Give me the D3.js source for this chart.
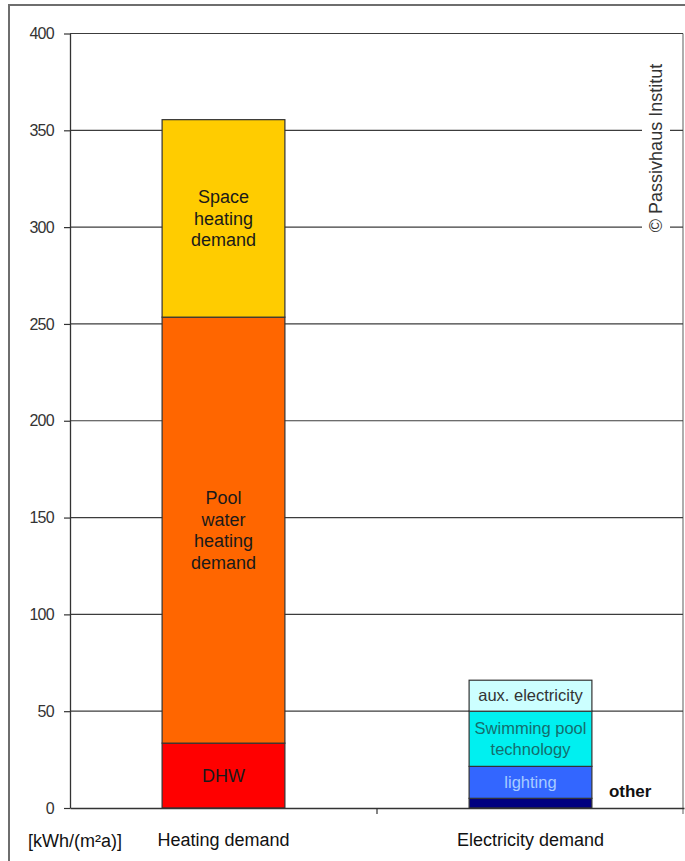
<!DOCTYPE html>
<html>
<head>
<meta charset="utf-8">
<script src="https://cdn.jsdelivr.net/npm/d3@7"></script>
<style>
  html, body { margin: 0; padding: 0; background: #fff; }
  svg { display: block; font-family: "Liberation Sans", Arial, sans-serif; }
</style>
</head>
<body>
<svg id="chart" width="685" height="861"></svg>
<script>
// Annual demand of an indoor swimming pool, kWh/(m²a)
const categories = ["Heating demand", "Electricity demand"];

// Heating demand, stacked bottom to top
const heatingParts  = ["DHW", "Pool water heating demand", "Space heating demand"];
const heatingValues = [33.5, 220, 102];
const heatingLabels = [["DHW"], ["Pool", "water", "heating", "demand"], ["Space", "heating", "demand"]];

// Electricity demand, stacked bottom to top
const electricityParts  = ["other", "lighting", "Swimming pool technology", "aux. electricity"];
const electricityValues = [5, 16.5, 28.5, 16];
const electricityLabels = [[], ["lighting"], ["Swimming pool", "technology"], ["aux. electricity"]];

const yTicks = [0, 50, 100, 150, 200, 250, 300, 350, 400];
const unitLabel = "[kWh/(m²a)]";
const creditText = "© Passivhaus Institut";

// Styling per segment
const segmentFill = {
  "DHW": "#ff0000",
  "Pool water heating demand": "#ff6600",
  "Space heating demand": "#ffcc00",
  "other": "#000080",
  "lighting": "#3366ff",
  "Swimming pool technology": "#00f0f0",
  "aux. electricity": "#ccffff"
};
const segmentText = {
  "DHW": "#1a1a1a",
  "Pool water heating demand": "#1a1a1a",
  "Space heating demand": "#1a1a1a",
  "lighting": "#a8ccff",
  "Swimming pool technology": "#146e6e",
  "aux. electricity": "#333"
};

const svg = d3.select("#chart");
const plot = { left: 70, right: 684, top: 33.5, bottom: 808 };

const x = d3.scaleBand().domain(categories).range([plot.left, plot.right]);
const y = d3.scaleLinear().domain([0, 400]).range([plot.bottom, plot.top]);
const barW = x.bandwidth() * 0.4;

// Outer frame
svg.append("path")
  .attr("d", "M9,868 L9,5 L690,5")
  .attr("fill", "none").attr("stroke", "#6e6e6e").attr("stroke-width", 2);

// Right edge of the plot area
svg.append("line")
  .attr("x1", 683).attr("x2", 683).attr("y1", plot.top).attr("y2", plot.bottom + 6)
  .attr("stroke", "#777").attr("stroke-width", 1.2);

// Horizontal gridlines
svg.append("g").selectAll("line").data(yTicks.filter(d => d > 0)).join("line")
  .attr("x1", plot.left).attr("x2", 683)
  .attr("y1", d => y(d)).attr("y2", d => y(d))
  .attr("stroke", "#3c3c3c").attr("stroke-width", 1.2);

// Credit text, rotated, on a white patch over the gridlines
const credit = svg.append("g").attr("transform", "translate(656,148) rotate(-90)");
credit.append("rect").attr("x", -93).attr("y", -14).attr("width", 186).attr("height", 28).attr("fill", "#fff");
credit.append("text").attr("text-anchor", "middle").attr("dy", "0.35em")
  .attr("font-size", 18).attr("fill", "#333").text(creditText);

// Y axis
const yAxis = svg.append("g").attr("transform", `translate(${plot.left},0)`)
  .call(d3.axisLeft(y).tickValues(yTicks).tickSize(6).tickSizeOuter(0).tickPadding(10));
yAxis.select(".domain").attr("stroke", "#333").attr("stroke-width", 1.3);
yAxis.selectAll(".tick line").attr("stroke", "#333").attr("stroke-width", 1.2);
yAxis.selectAll(".tick text").attr("font-size", 16).attr("fill", "#333")
  .attr("font-family", "'Liberation Sans', Arial, sans-serif").attr("letter-spacing", -0.7);

// Stacked bars
function drawStack(category, parts, values, labels, fontSize, lh) {
  const cx = x(category) + x.bandwidth() / 2;
  let base = 0;
  const g = svg.append("g");
  parts.forEach((p, i) => {
    const y0 = base, y1 = base + values[i];
    base = y1;
    g.append("rect")
      .attr("x", cx - barW / 2).attr("width", barW)
      .attr("y", y(y1)).attr("height", y(y0) - y(y1))
      .attr("fill", segmentFill[p]).attr("stroke", "#333").attr("stroke-width", 1.2);
    const lines = labels[i];
    if (!lines.length) return;
    const mid = (y(y0) + y(y1)) / 2;
    const t = g.append("text").attr("text-anchor", "middle")
      .attr("font-size", fontSize).attr("fill", segmentText[p]);
    lines.forEach((ln, k) => {
      t.append("tspan").attr("x", cx)
        .attr("y", mid + (k - (lines.length - 1) / 2) * lh)
        .attr("dy", "0.35em").text(ln);
    });
  });
  return cx;
}
drawStack(categories[0], heatingParts, heatingValues, heatingLabels, 18, 21.5);
const ex = drawStack(categories[1], electricityParts, electricityValues, electricityLabels, 16.5, 21);

// "other" is too thin to hold its label, so it sits beside the bar
svg.append("text")
  .attr("x", ex + barW / 2 + 17).attr("y", y(electricityValues[0] / 2) - 12).attr("dy", "0.35em")
  .attr("font-size", 17).attr("font-weight", "bold").attr("fill", "#111").text(electricityParts[0]);

// Category axis
const xAxis = svg.append("g").attr("transform", `translate(0,${plot.bottom})`)
  .call(d3.axisBottom(x).tickSize(0).tickPadding(25));
xAxis.select(".domain").attr("stroke", "#333").attr("stroke-width", 1.3);
xAxis.selectAll(".tick text").attr("font-size", 18).attr("fill", "#111")
  .attr("font-family", "'Liberation Sans', Arial, sans-serif");
// Divider tick between categories
svg.append("line")
  .attr("x1", x(categories[1])).attr("x2", x(categories[1]))
  .attr("y1", plot.bottom).attr("y2", plot.bottom + 6)
  .attr("stroke", "#333").attr("stroke-width", 1.2);

// Unit label
svg.append("text").attr("x", 28).attr("y", y(0) + 38.5)
  .attr("font-size", 18).attr("fill", "#111").text(unitLabel);
</script>
</body>
</html>
